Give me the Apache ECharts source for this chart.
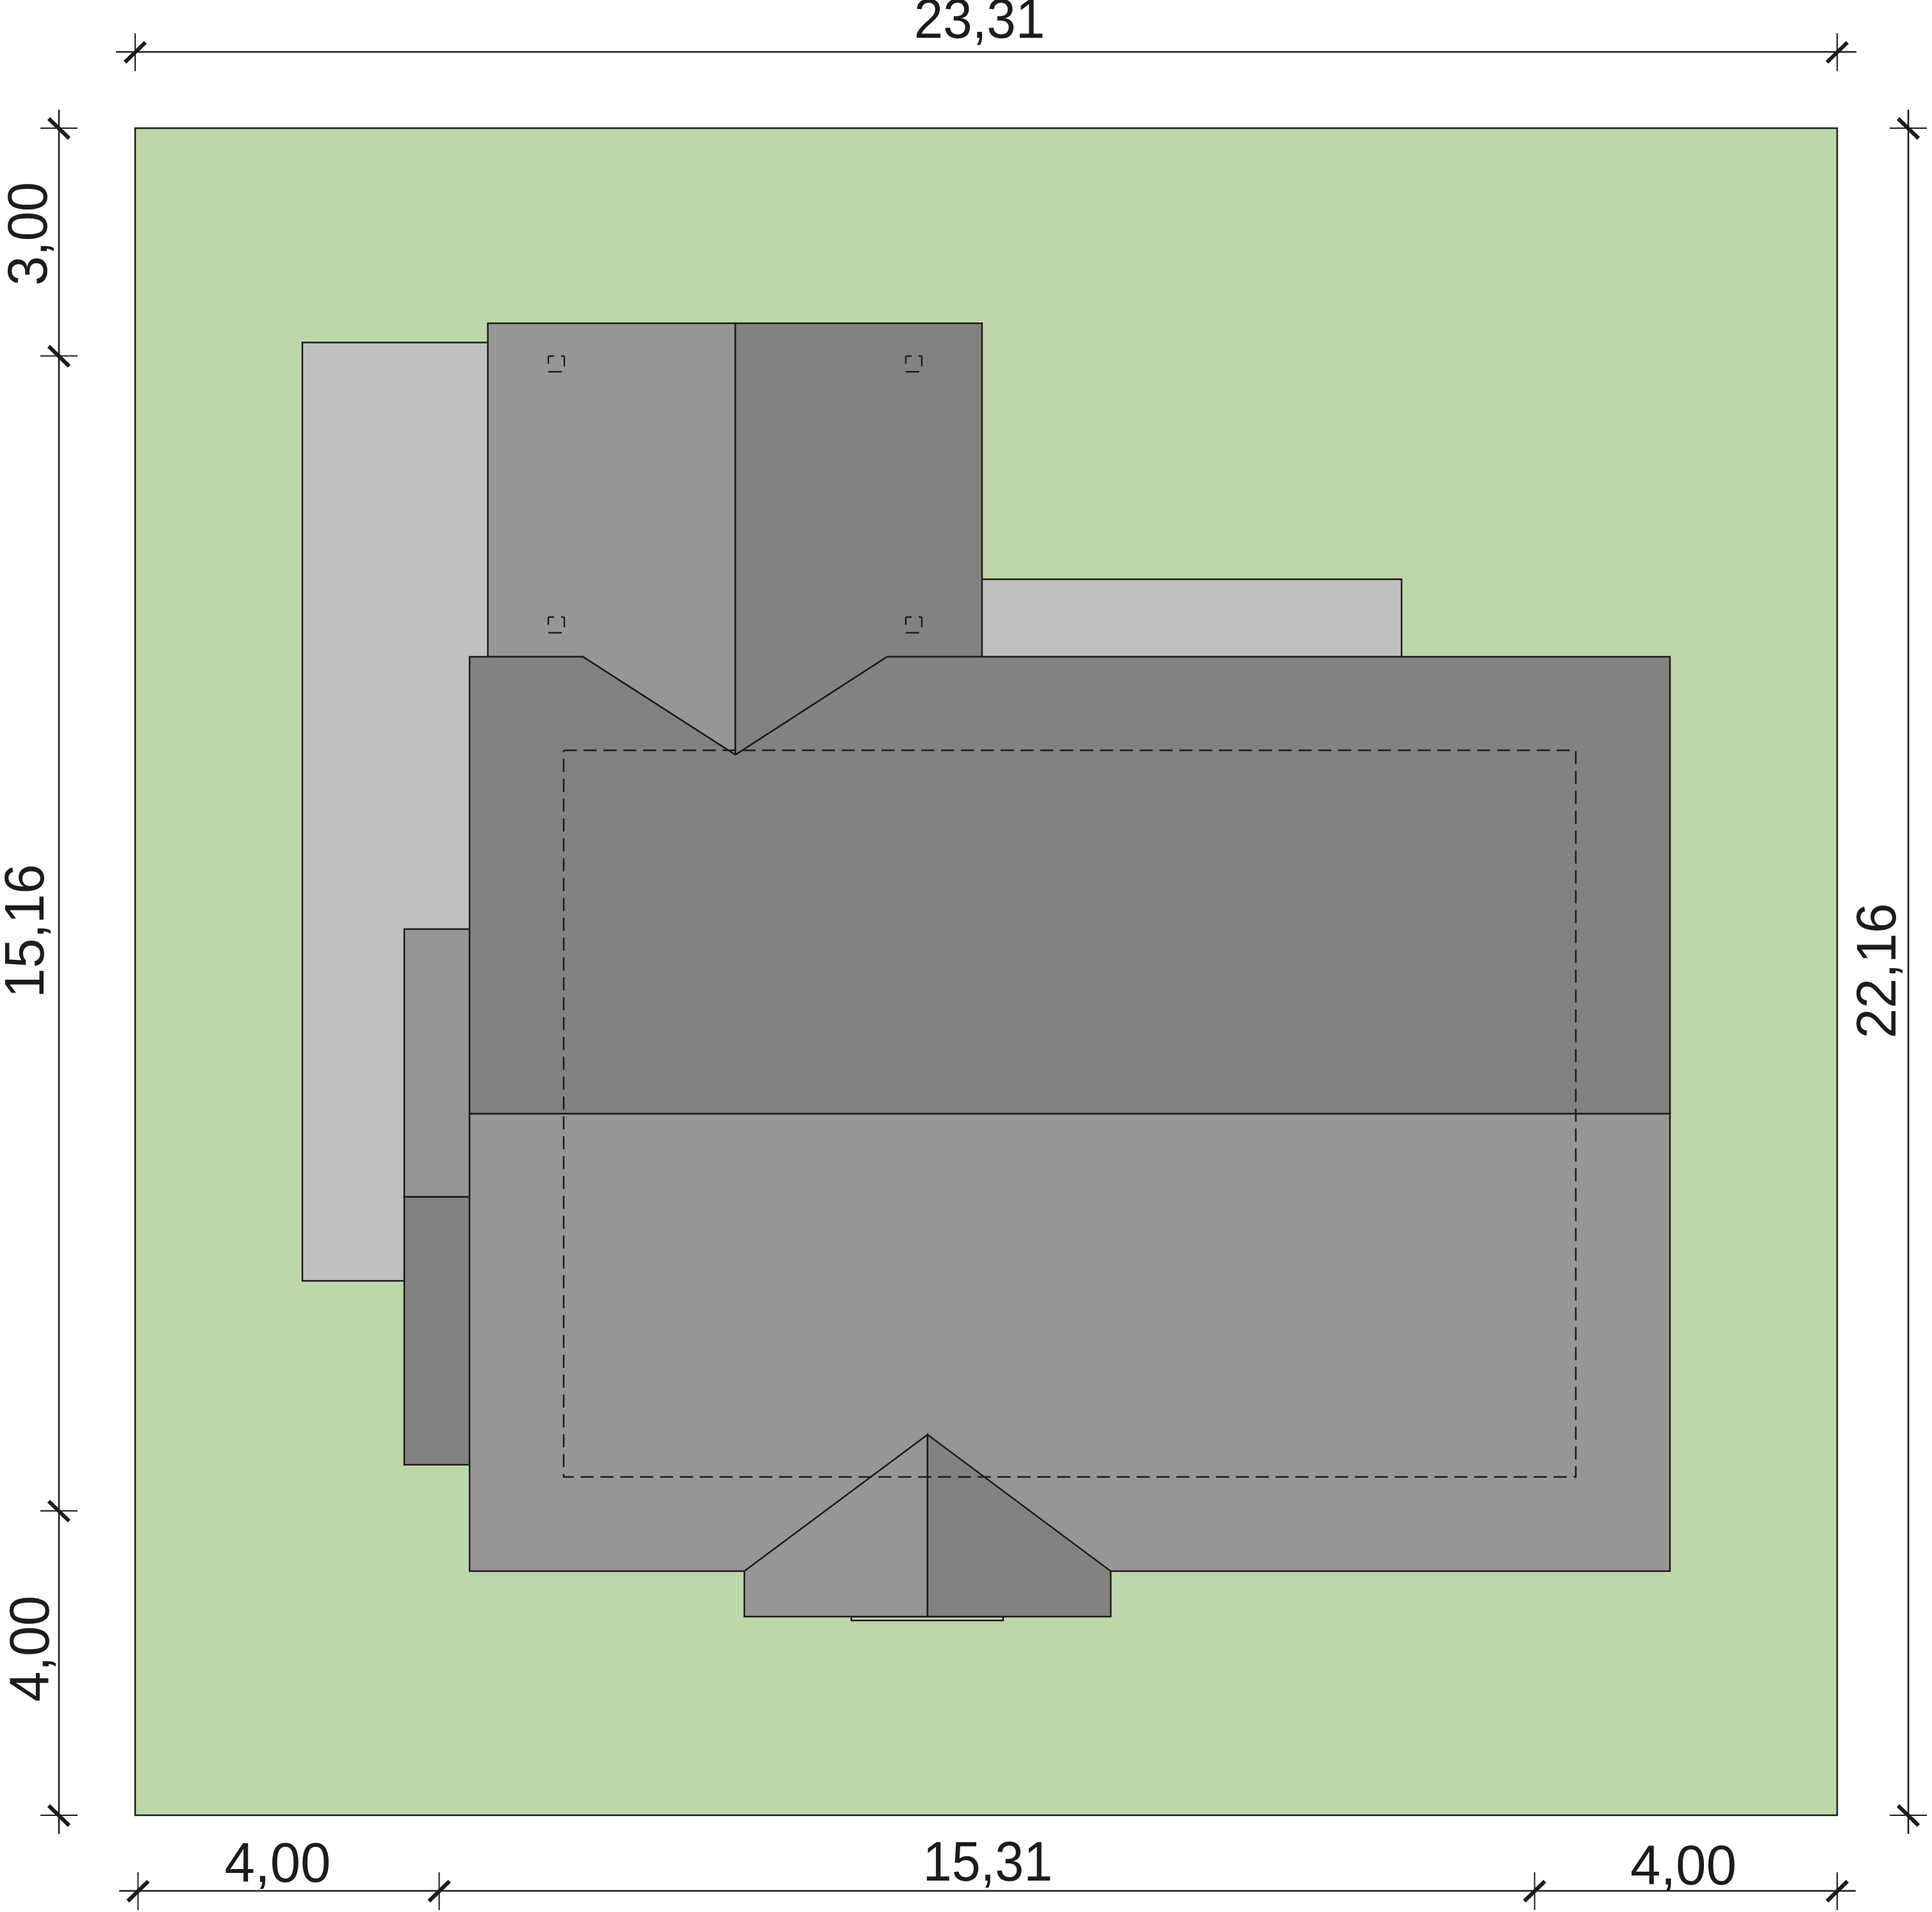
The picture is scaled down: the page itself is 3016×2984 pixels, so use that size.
<!DOCTYPE html>
<html>
<head>
<meta charset="utf-8">
<style>html,body{margin:0;padding:0;background:#fff}#c{width:3016px;height:2984px}</style>
<script src="https://cdn.jsdelivr.net/npm/echarts@6/dist/echarts.min.js"></script>
</head>
<body>
<div id="c"></div>
<script>
// Plan values in metres (origin: lower-left corner of the plot, y upward)
var plotWidth = 23.31;
var plotHeight = 22.16;

var lot = [[0,0],[23.31,0],[23.31,22.16],[0,22.16]];
var terraceLeft = [[2.29,7.019],[6,7.019],[6,19.344],[2.29,19.344]];
var terraceRight = [[9,15.216],[17.344,15.216],[17.344,16.235],[9,16.235]];
var sideWingUpper = [[3.685,8.121],[4.58,8.121],[4.58,11.639],[3.685,11.639]];
var sideWingLower = [[3.685,4.604],[4.58,4.604],[4.58,8.121],[3.685,8.121]];
var wingLeft = [[4.83,19.597],[8.22,19.597],[8.22,13.929],[6.132,15.216],[4.83,15.216]];
var wingRight = [[8.22,19.597],[11.598,19.597],[11.598,15.216],[10.299,15.216],[8.22,13.929]];
var roofBack = [[4.58,15.216],[6.132,15.216],[8.22,13.929],[10.299,15.216],[21.02,15.216],[21.02,9.216],[4.58,9.216]];
var roofFront = [[4.58,9.216],[21.02,9.216],[21.02,3.206],[4.58,3.206]];
var porchStep = [[9.808,2.609],[11.887,2.609],[11.887,2.558],[9.808,2.558]];
var dormerLeft = [[8.343,3.206],[10.852,4.999],[10.852,2.609],[8.343,2.609]];
var dormerRight = [[10.852,4.999],[13.361,3.206],[13.361,2.609],[10.852,2.609]];
var wallsOutline = [[5.869,13.987],[19.73,13.987],[19.73,4.444],[5.869,4.444],[5.869,13.987]];
var skylightX = [5.658,10.554];
var skylightY = [19.166,15.738];

// Dimension chains
var topDimY = 23.161, bottomDimY = -0.993, leftDimX = -1.044, rightDimX = 24.284;
var topTicks = [0,23.31];
var bottomTicks = [0.039,4.164,19.166,23.31];
var leftTicks = [22.16,19.168,3.998,0];
var rightTicks = [22.16,0];
var topExtent = [-0.263,23.573];
var bottomExtent = [-0.219,23.564];
var sideExtent = [-0.244,22.402];

var labelTexts = ['23,31','4,00','15,31','4,00','3,00','15,16','4,00','22,16'];
var labelX = [11.563,1.952,11.677,21.204,-1.193,-1.241,-1.167,24.126];
var labelY = [23.329,-0.892,-0.875,-0.926,20.773,11.614,2.188,11.092];
var labelRotated = [false,false,false,false,true,true,true,true];
var labelStretch = [0.94,0.98,0.93,0.98,0.955,0.96,0.98,0.97];

var C = {green:'#bed7aa',light:'#c0c0c0',mid:'#979695',dark:'#838280',ink:'#1d1b1b'};
var shapes = [
  [lot,C.green],[terraceLeft,C.light],[terraceRight,C.light],
  [sideWingUpper,C.mid],[sideWingLower,C.dark],
  [wingLeft,C.mid],[wingRight,C.dark],
  [roofFront,C.mid],[roofBack,C.dark],
  [porchStep,C.green],[dormerLeft,C.mid],[dormerRight,C.dark]
];

function line(a,b,w,extra){
  return {type:'line',shape:{x1:a[0],y1:a[1],x2:b[0],y2:b[1]},
    style:Object.assign({stroke:C.ink,lineWidth:w,lineCap:'butt'},extra||{})};
}
function renderShape(params,api){
  var s = shapes[params.dataIndex];
  return {type:'polygon',shape:{points:s[0].map(function(p){return api.coord(p);})},
    style:{fill:s[1],stroke:C.ink,lineWidth:2.5,lineJoin:'miter'}};
}
function renderWalls(params,api){
  return {type:'polyline',shape:{points:wallsOutline.map(function(p){return api.coord(p);})},
    style:{fill:'none',stroke:C.ink,lineWidth:2.5,lineDash:[20.5,10.5]}};
}
function skylight(c){
  var x=c[0],y=c[1];
  return {type:'group',children:[
    line([x,y+12],[x,y],2.4),line([x,y],[x+9,y],2.4),
    line([x+20,y],[x+25,y],2.4),line([x+25,y],[x+25,y+16],2.4),
    line([x,y+24.5],[x+21,y+24.5],2.4)
  ]};
}
function renderSkylights(params,api){
  var d = [];
  skylightX.forEach(function(x){skylightY.forEach(function(y){d.push(skylight(api.coord([x,y])));});});
  return {type:'group',children:d};
}
function renderDims(params,api){
  var out = [];
  function hDim(y,ext,ticks){
    out.push(line(api.coord([ext[0],y]),api.coord([ext[1],y]),2.6));
    ticks.forEach(function(t){
      var p = api.coord([t,y]);
      out.push(line([p[0],p[1]-29],[p[0],p[1]+30],2));
      out.push(line([p[0]-16,p[1]+16],[p[0]+16,p[1]-15],6));
    });
  }
  function vDim(x,ext,ticks){
    out.push(line(api.coord([x,ext[0]]),api.coord([x,ext[1]]),2.6));
    ticks.forEach(function(t){
      var p = api.coord([x,t]);
      out.push(line([p[0]-29,p[1]],[p[0]+29,p[1]],2));
      out.push(line([p[0]-16,p[1]-15],[p[0]+16,p[1]+16],6));
    });
  }
  hDim(topDimY,topExtent,topTicks);
  hDim(bottomDimY,bottomExtent,bottomTicks);
  vDim(leftDimX,sideExtent,leftTicks);
  vDim(rightDimX,sideExtent,rightTicks);
  return {type:'group',children:out};
}
var FS = 87, MID = 26;
function renderLabel(params,api){
  var i = params.dataIndex, p = api.coord([labelX[i],labelY[i]]), rot = labelRotated[i];
  return {type:'text',x:rot?p[0]-MID:p[0],y:rot?p[1]:p[1]-MID,rotation:rot?Math.PI/2:0,
    scaleX:labelStretch[i],
    style:{text:labelTexts[i],fill:C.ink,font:FS+'px "Liberation Sans"',
      align:'center',verticalAlign:'middle'}};
}

var chart = echarts.init(document.getElementById('c'),null,{width:3016,height:2984,renderer:'canvas'});
chart.setOption({
  animation:false,
  backgroundColor:'#ffffff',
  grid:{left:211,right:148,top:200,bottom:151,containLabel:false},
  xAxis:{type:'value',min:0,max:plotWidth,show:false},
  yAxis:{type:'value',min:0,max:plotHeight,show:false},
  series:[
    {type:'custom',coordinateSystem:'cartesian2d',renderItem:renderShape,clip:false,silent:true,
     data:shapes.map(function(s,i){return [s[0][0][0],s[0][0][1],i];})},
    {type:'custom',coordinateSystem:'cartesian2d',renderItem:renderWalls,clip:false,silent:true,data:[wallsOutline[0]]},
    {type:'custom',coordinateSystem:'cartesian2d',renderItem:renderSkylights,clip:false,silent:true,data:[[skylightX[0],skylightY[0]]]},
    {type:'custom',coordinateSystem:'cartesian2d',renderItem:renderDims,clip:false,silent:true,data:[[0,topDimY]]},
    {type:'custom',coordinateSystem:'cartesian2d',renderItem:renderLabel,clip:false,silent:true,
     data:labelTexts.map(function(t,i){return [labelX[i],labelY[i]];})}
  ]
});
</script>
</body>
</html>
